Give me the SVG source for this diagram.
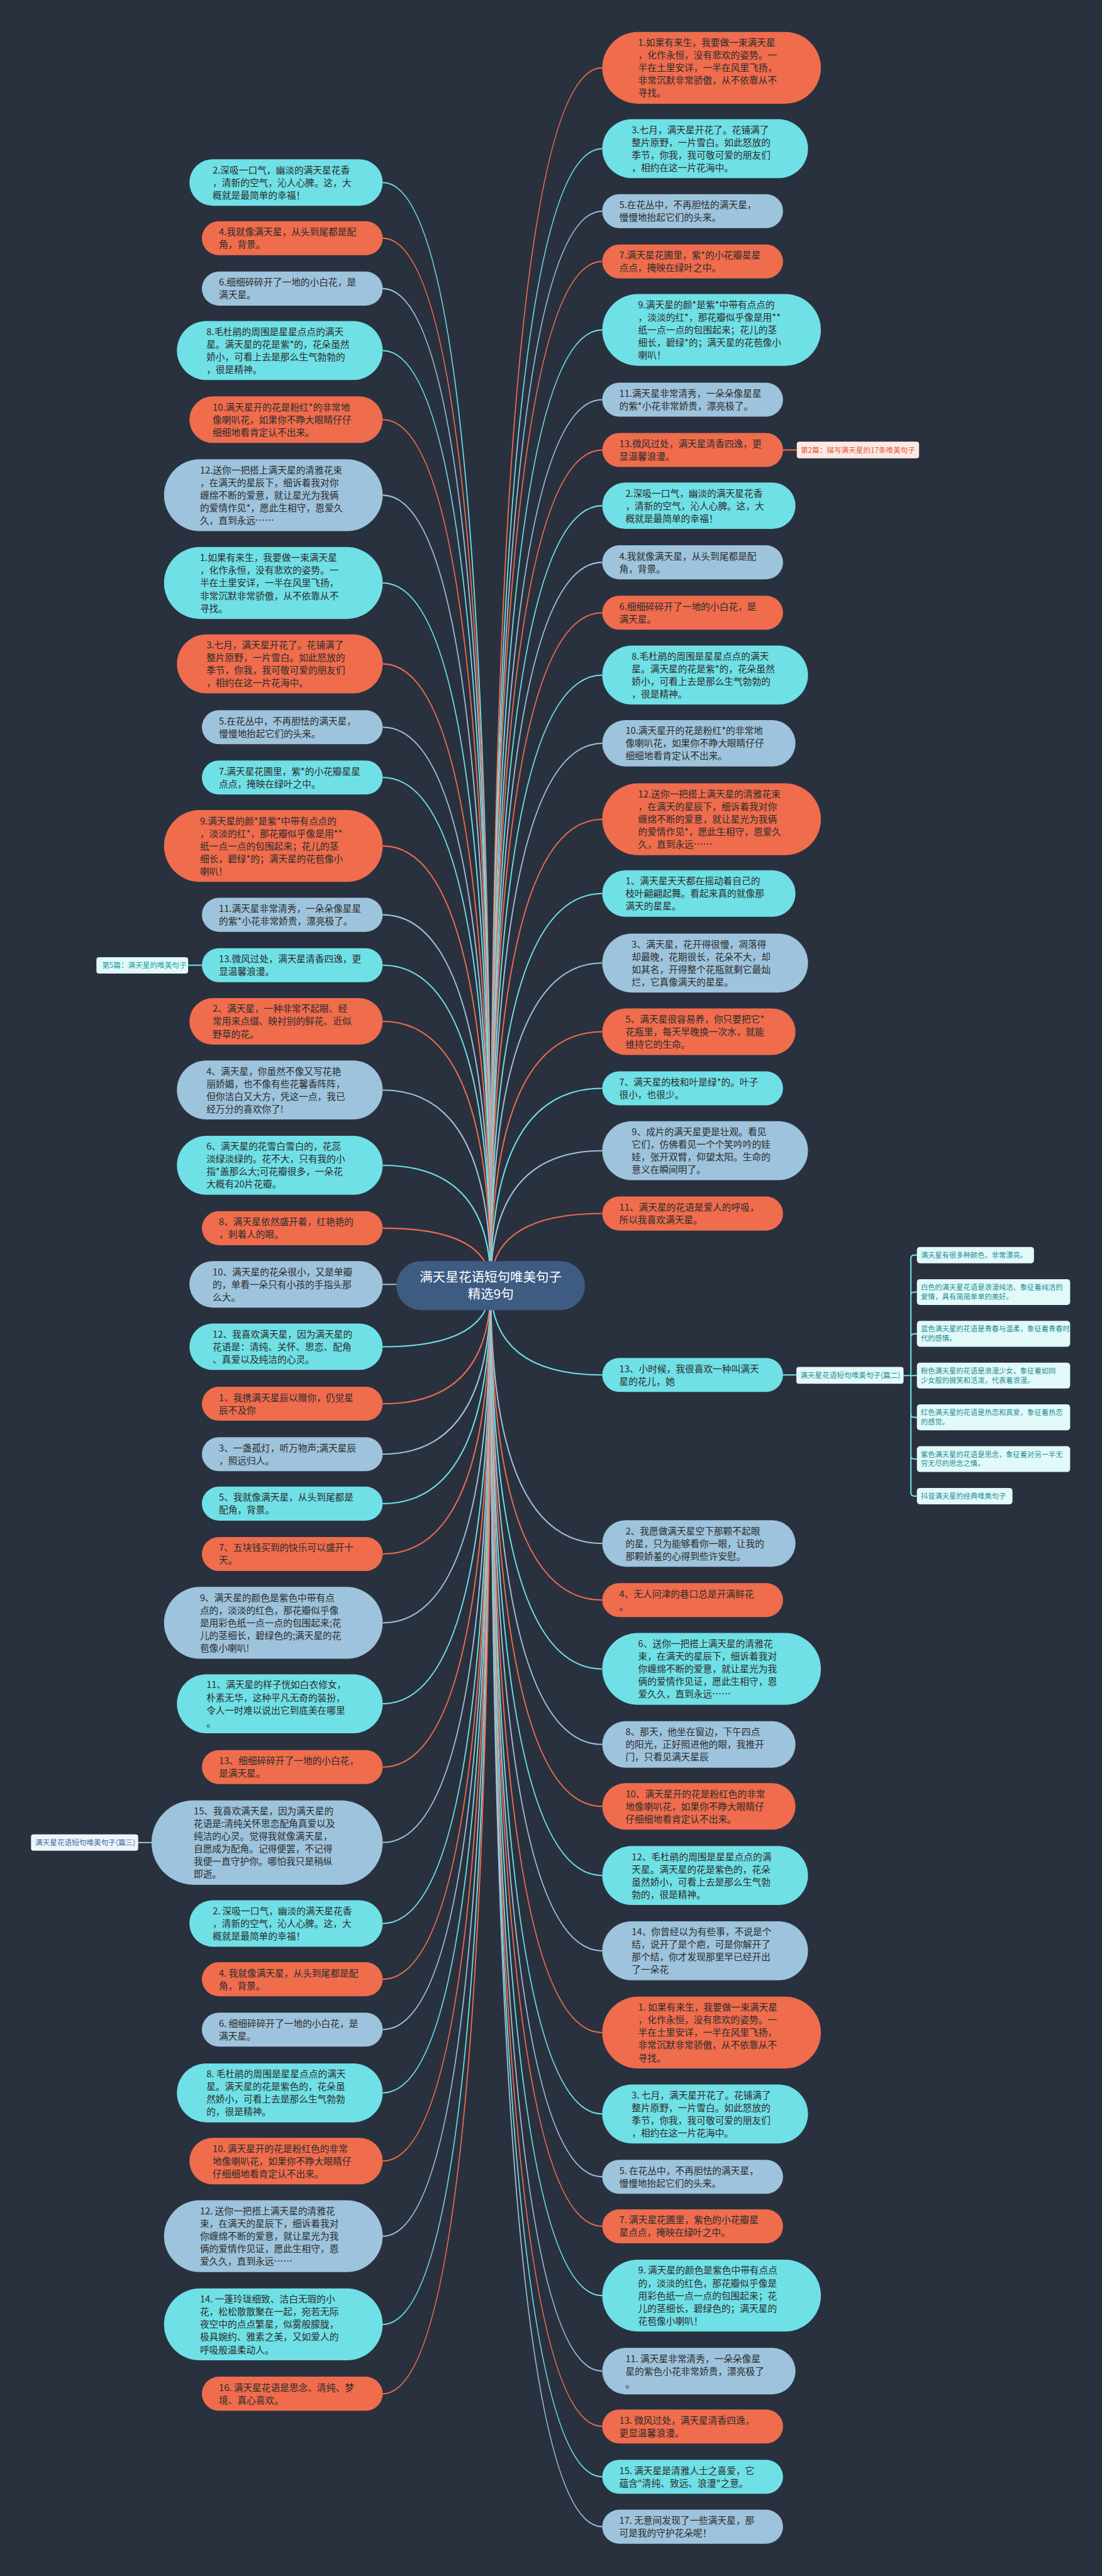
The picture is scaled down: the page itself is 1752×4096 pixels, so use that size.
<svg xmlns="http://www.w3.org/2000/svg" width="1752" height="4096" viewBox="0 0 1752 4096">
<style>
.c{fill:#6fe0e6}.o{fill:#ef6c4d}.b{fill:#9ec3dc}
.t{font-family:"Noto Sans CJK SC","Noto Sans",sans-serif;font-size:21.5px;fill:#2b2b2b}
.k path{fill:none;stroke-width:3}
.sc{stroke:#6fe0e6}.so{stroke:#ef6c4d}.sb{stroke:#9ec3dc}
.lt{font-family:"Noto Sans CJK SC","Noto Sans",sans-serif;font-size:17px}
.st{font-family:"Noto Sans CJK SC","Noto Sans",sans-serif;font-size:16.5px;fill:#1f8e95}
.sub rect{fill:#e2f9f9}
.ctr{font-family:"Noto Sans CJK SC","Noto Sans",sans-serif;font-size:30px;fill:#ffffff;text-anchor:middle}
</style>
<rect x="0" y="0" width="1752" height="4096" fill="#29313f"/>
<g transform="scale(0.684375)">
<g id="connectors" class="k">
<path class="sc" d="M1140 2987Q1140 424 889 424"/>
<path class="so" d="M1140 2987Q1140 553.5 889 553.5"/>
<path class="sb" d="M1140 2987Q1140 670.5 889 670.5"/>
<path class="sc" d="M1140 2987Q1140 814.5 889 814.5"/>
<path class="so" d="M1140 2987Q1140 975 889 975"/>
<path class="sb" d="M1140 2987Q1140 1150.5 889 1150.5"/>
<path class="sc" d="M1140 2987Q1140 1354.5 889 1354.5"/>
<path class="so" d="M1140 2987Q1140 1542.5 889 1542.5"/>
<path class="sb" d="M1140 2987Q1140 1689.5 889 1689.5"/>
<path class="sc" d="M1140 2987Q1140 1806.5 889 1806.5"/>
<path class="so" d="M1140 2987Q1140 1965.5 889 1965.5"/>
<path class="sb" d="M1140 2987Q1140 2125.5 889 2125.5"/>
<path class="sc" d="M1140 2987Q1140 2242.5 889 2242.5"/>
<path class="so" d="M1140 2987Q1140 2373 889 2373"/>
<path class="sb" d="M1140 2987Q1140 2532.5 889 2532.5"/>
<path class="sc" d="M1140 2987Q1140 2707.5 889 2707.5"/>
<path class="so" d="M1140 2987Q1140 2853.5 889 2853.5"/>
<path class="sb" d="M1140 2987Q1140 2984 889 2984"/>
<path class="sc" d="M1140 2987Q1140 3129 889 3129"/>
<path class="so" d="M1140 2987Q1140 3261.5 889 3261.5"/>
<path class="sb" d="M1140 2987Q1140 3378.5 889 3378.5"/>
<path class="sc" d="M1140 2987Q1140 3493.5 889 3493.5"/>
<path class="so" d="M1140 2987Q1140 3610.5 889 3610.5"/>
<path class="sb" d="M1140 2987Q1140 3770.5 889 3770.5"/>
<path class="sc" d="M1140 2987Q1140 3958.5 889 3958.5"/>
<path class="so" d="M1140 2987Q1140 4105.5 889 4105.5"/>
<path class="sb" d="M1140 2987Q1140 4281 889 4281"/>
<path class="sc" d="M1140 2987Q1140 4469 889 4469"/>
<path class="so" d="M1140 2987Q1140 4598.5 889 4598.5"/>
<path class="sb" d="M1140 2987Q1140 4715.5 889 4715.5"/>
<path class="sc" d="M1140 2987Q1140 4862.5 889 4862.5"/>
<path class="so" d="M1140 2987Q1140 5021 889 5021"/>
<path class="sb" d="M1140 2987Q1140 5195.5 889 5195.5"/>
<path class="sc" d="M1140 2987Q1140 5400.5 889 5400.5"/>
<path class="so" d="M1140 2987Q1140 5561.5 889 5561.5"/>
<path class="so" d="M1140 2987Q1140 157.5 1399 157.5"/>
<path class="sc" d="M1140 2987Q1140 345.5 1399 345.5"/>
<path class="sb" d="M1140 2987Q1140 490.5 1399 490.5"/>
<path class="so" d="M1140 2987Q1140 607.5 1399 607.5"/>
<path class="sc" d="M1140 2987Q1140 766.5 1399 766.5"/>
<path class="sb" d="M1140 2987Q1140 928.5 1399 928.5"/>
<path class="so" d="M1140 2987Q1140 1045.5 1399 1045.5"/>
<path class="sc" d="M1140 2987Q1140 1175 1399 1175"/>
<path class="sb" d="M1140 2987Q1140 1306.5 1399 1306.5"/>
<path class="so" d="M1140 2987Q1140 1423.5 1399 1423.5"/>
<path class="sc" d="M1140 2987Q1140 1568.5 1399 1568.5"/>
<path class="sb" d="M1140 2987Q1140 1727 1399 1727"/>
<path class="so" d="M1140 2987Q1140 1903.5 1399 1903.5"/>
<path class="sc" d="M1140 2987Q1140 2076 1399 2076"/>
<path class="sb" d="M1140 2987Q1140 2237.5 1399 2237.5"/>
<path class="so" d="M1140 2987Q1140 2397 1399 2397"/>
<path class="sc" d="M1140 2987Q1140 2528.5 1399 2528.5"/>
<path class="sb" d="M1140 2987Q1140 2673.5 1399 2673.5"/>
<path class="so" d="M1140 2987Q1140 2819.5 1399 2819.5"/>
<path class="sc" d="M1140 2987Q1140 3194.5 1399 3194.5"/>
<path class="sb" d="M1140 2987Q1140 3586 1399 3586"/>
<path class="so" d="M1140 2987Q1140 3717.5 1399 3717.5"/>
<path class="sc" d="M1140 2987Q1140 3877.5 1399 3877.5"/>
<path class="sb" d="M1140 2987Q1140 4053 1399 4053"/>
<path class="so" d="M1140 2987Q1140 4197 1399 4197"/>
<path class="sc" d="M1140 2987Q1140 4357.5 1399 4357.5"/>
<path class="sb" d="M1140 2987Q1140 4532.5 1399 4532.5"/>
<path class="so" d="M1140 2987Q1140 4722.5 1399 4722.5"/>
<path class="sc" d="M1140 2987Q1140 4911.5 1399 4911.5"/>
<path class="sb" d="M1140 2987Q1140 5057.5 1399 5057.5"/>
<path class="so" d="M1140 2987Q1140 5172.5 1399 5172.5"/>
<path class="sc" d="M1140 2987Q1140 5333.5 1399 5333.5"/>
<path class="sb" d="M1140 2987Q1140 5509 1399 5509"/>
<path class="so" d="M1140 2987Q1140 5637.5 1399 5637.5"/>
<path class="sc" d="M1140 2987Q1140 5754.5 1399 5754.5"/>
<path class="sb" d="M1140 2987Q1140 5870.5 1399 5870.5"/>
<path class="sc" d="M437 2242.5H469"/>
<path class="so" d="M1819 1045.5H1851"/>
<path class="sb" d="M321 4281H352"/>
<path class="sc" d="M1819 3194.5H1850"/>
<path class="sc" d="M2099 3196H2130M2116 2924V3468M2116 2924Q2116 2916 2124 2916H2130M2116 3010Q2116 3002 2124 3002H2130M2116 3107Q2116 3099 2124 3099H2130M2116 3285Q2116 3293 2124 3293H2130M2116 3382Q2116 3390 2124 3390H2130M2116 3468Q2116 3476 2124 3476H2130"/>
</g>
<g id="center"><rect x="921" y="2930" width="438" height="114" rx="57" fill="#3e5b82"/><text class="ctr" x="1140" y="2978"><tspan x="1140">满天星花语短句唯美句子</tspan><tspan x="1140" dy="40">精选9句</tspan></text></g>
<g id="L1"><rect class="c" x="440" y="370" width="449" height="108" rx="54"/><text class="t" x="494" y="402.7"><tspan x="494">2.深吸一口气，幽淡的满天星花香</tspan><tspan x="494" dy="29.3">，清新的空气，沁人心脾。这，大</tspan><tspan x="494" dy="29.3">概就是最简单的幸福！</tspan></text></g>
<g id="L2"><rect class="o" x="469" y="514" width="420" height="79" rx="39.5"/><text class="t" x="508.5" y="546.85"><tspan x="508.5">4.我就像满天星，从头到尾都是配</tspan><tspan x="508.5" dy="29.3">角，背景。</tspan></text></g>
<g id="L3"><rect class="b" x="469" y="631" width="420" height="79" rx="39.5"/><text class="t" x="508.5" y="663.85"><tspan x="508.5">6.细细碎碎开了一地的小白花，是</tspan><tspan x="508.5" dy="29.3">满天星。</tspan></text></g>
<g id="L4"><rect class="c" x="411" y="746" width="478" height="137" rx="68.5"/><text class="t" x="479.5" y="778.55"><tspan x="479.5">8.毛杜鹃的周围是星星点点的满天</tspan><tspan x="479.5" dy="29.3">星。满天星的花是紫*的，花朵虽然</tspan><tspan x="479.5" dy="29.3">娇小，可看上去是那么生气勃勃的</tspan><tspan x="479.5" dy="29.3">，很是精神。</tspan></text></g>
<g id="L5"><rect class="o" x="440" y="921" width="449" height="108" rx="54"/><text class="t" x="494" y="953.7"><tspan x="494">10.满天星开的花是粉红*的非常地</tspan><tspan x="494" dy="29.3">像喇叭花，如果你不睁大眼睛仔仔</tspan><tspan x="494" dy="29.3">细细地看肯定认不出来。</tspan></text></g>
<g id="L6"><rect class="b" x="381" y="1067" width="508" height="167" rx="83.5"/><text class="t" x="464.5" y="1099.9"><tspan x="464.5">12.送你一把搭上满天星的清雅花束</tspan><tspan x="464.5" dy="29.3">，在满天的星辰下，细诉着我对你</tspan><tspan x="464.5" dy="29.3">缠绵不断的爱意，就让星光为我俩</tspan><tspan x="464.5" dy="29.3">的爱情作见*，愿此生相守，恩爱久</tspan><tspan x="464.5" dy="29.3">久，直到永远……</tspan></text></g>
<g id="L7"><rect class="c" x="381" y="1271" width="508" height="167" rx="83.5"/><text class="t" x="464.5" y="1303.9"><tspan x="464.5">1.如果有来生，我要做一束满天星</tspan><tspan x="464.5" dy="29.3">，化作永恒，没有悲欢的姿势。一</tspan><tspan x="464.5" dy="29.3">半在土里安详，一半在风里飞扬，</tspan><tspan x="464.5" dy="29.3">非常沉默非常骄傲，从不依靠从不</tspan><tspan x="464.5" dy="29.3">寻找。</tspan></text></g>
<g id="L8"><rect class="o" x="411" y="1474" width="478" height="137" rx="68.5"/><text class="t" x="479.5" y="1506.55"><tspan x="479.5">3.七月，满天星开花了。花铺满了</tspan><tspan x="479.5" dy="29.3">整片原野，一片雪白。如此怒放的</tspan><tspan x="479.5" dy="29.3">季节，你我，我可敬可爱的朋友们</tspan><tspan x="479.5" dy="29.3">，相约在这一片花海中。</tspan></text></g>
<g id="L9"><rect class="b" x="469" y="1650" width="420" height="79" rx="39.5"/><text class="t" x="508.5" y="1682.85"><tspan x="508.5">5.在花丛中，不再胆怯的满天星，</tspan><tspan x="508.5" dy="29.3">慢慢地抬起它们的头来。</tspan></text></g>
<g id="L10"><rect class="c" x="469" y="1767" width="420" height="79" rx="39.5"/><text class="t" x="508.5" y="1799.85"><tspan x="508.5">7.满天星花圃里，紫*的小花瓣星星</tspan><tspan x="508.5" dy="29.3">点点，掩映在绿叶之中。</tspan></text></g>
<g id="L11"><rect class="o" x="381" y="1882" width="508" height="167" rx="83.5"/><text class="t" x="464.5" y="1914.9"><tspan x="464.5">9.满天星的颜*是紫*中带有点点的</tspan><tspan x="464.5" dy="29.3">，淡淡的红*，那花瓣似乎像是用**</tspan><tspan x="464.5" dy="29.3">纸一点一点的包围起来；花儿的茎</tspan><tspan x="464.5" dy="29.3">细长，碧绿*的；满天星的花苞像小</tspan><tspan x="464.5" dy="29.3">喇叭！</tspan></text></g>
<g id="L12"><rect class="b" x="469" y="2086" width="420" height="79" rx="39.5"/><text class="t" x="508.5" y="2118.85"><tspan x="508.5">11.满天星非常清秀，一朵朵像星星</tspan><tspan x="508.5" dy="29.3">的紫*小花非常娇贵，漂亮极了。</tspan></text></g>
<g id="L13"><rect class="c" x="469" y="2203" width="420" height="79" rx="39.5"/><text class="t" x="508.5" y="2235.85"><tspan x="508.5">13.微风过处，满天星清香四逸，更</tspan><tspan x="508.5" dy="29.3">显温馨浪漫。</tspan></text></g>
<g id="L14"><rect class="o" x="440" y="2319" width="449" height="108" rx="54"/><text class="t" x="494" y="2351.7"><tspan x="494">2、满天星，一种非常不起眼、经</tspan><tspan x="494" dy="29.3">常用来点缀、映衬别的鲜花、近似</tspan><tspan x="494" dy="29.3">野草的花。</tspan></text></g>
<g id="L15"><rect class="b" x="411" y="2464" width="478" height="137" rx="68.5"/><text class="t" x="479.5" y="2496.55"><tspan x="479.5">4、满天星，你虽然不像又写花艳</tspan><tspan x="479.5" dy="29.3">丽娇媚，也不像有些花馨香阵阵，</tspan><tspan x="479.5" dy="29.3">但你洁白又大方，凭这一点，我已</tspan><tspan x="479.5" dy="29.3">经万分的喜欢你了!</tspan></text></g>
<g id="L16"><rect class="c" x="411" y="2639" width="478" height="137" rx="68.5"/><text class="t" x="479.5" y="2671.55"><tspan x="479.5">6、满天星的花雪白雪白的，花蕊</tspan><tspan x="479.5" dy="29.3">淡绿淡绿的。花不大，只有我的小</tspan><tspan x="479.5" dy="29.3">指*盖那么大;可花瓣很多，一朵花</tspan><tspan x="479.5" dy="29.3">大概有20片花瓣。</tspan></text></g>
<g id="L17"><rect class="o" x="469" y="2814" width="420" height="79" rx="39.5"/><text class="t" x="508.5" y="2846.85"><tspan x="508.5">8、满天星依然盛开着，红艳艳的</tspan><tspan x="508.5" dy="29.3">，刺着人的眼。</tspan></text></g>
<g id="L18"><rect class="b" x="440" y="2930" width="449" height="108" rx="54"/><text class="t" x="494" y="2962.7"><tspan x="494">10、满天星的花朵很小，又是单瓣</tspan><tspan x="494" dy="29.3">的，单看一朵只有小孩的手指头那</tspan><tspan x="494" dy="29.3">么大。</tspan></text></g>
<g id="L19"><rect class="c" x="440" y="3075" width="449" height="108" rx="54"/><text class="t" x="494" y="3107.7"><tspan x="494">12、我喜欢满天星，因为满天星的</tspan><tspan x="494" dy="29.3">花语是：清纯、关怀、思恋、配角</tspan><tspan x="494" dy="29.3">、真爱以及纯洁的心灵。</tspan></text></g>
<g id="L20"><rect class="o" x="469" y="3222" width="420" height="79" rx="39.5"/><text class="t" x="508.5" y="3254.85"><tspan x="508.5">1、我携满天星辰以赠你，仍觉星</tspan><tspan x="508.5" dy="29.3">辰不及你</tspan></text></g>
<g id="L21"><rect class="b" x="469" y="3339" width="420" height="79" rx="39.5"/><text class="t" x="508.5" y="3371.85"><tspan x="508.5">3、一盏孤灯，听万物声;满天星辰</tspan><tspan x="508.5" dy="29.3">，照远归人。</tspan></text></g>
<g id="L22"><rect class="c" x="469" y="3454" width="420" height="79" rx="39.5"/><text class="t" x="508.5" y="3486.85"><tspan x="508.5">5、我就像满天星，从头到尾都是</tspan><tspan x="508.5" dy="29.3">配角，背景。</tspan></text></g>
<g id="L23"><rect class="o" x="469" y="3571" width="420" height="79" rx="39.5"/><text class="t" x="508.5" y="3603.85"><tspan x="508.5">7、五块钱买到的快乐可以盛开十</tspan><tspan x="508.5" dy="29.3">天。</tspan></text></g>
<g id="L24"><rect class="b" x="381" y="3687" width="508" height="167" rx="83.5"/><text class="t" x="464.5" y="3719.9"><tspan x="464.5">9、满天星的颜色是紫色中带有点</tspan><tspan x="464.5" dy="29.3">点的，淡淡的红色，那花瓣似乎像</tspan><tspan x="464.5" dy="29.3">是用彩色纸一点一点的包围起来;花</tspan><tspan x="464.5" dy="29.3">儿的茎细长，碧绿色的;满天星的花</tspan><tspan x="464.5" dy="29.3">苞像小喇叭!</tspan></text></g>
<g id="L25"><rect class="c" x="411" y="3890" width="478" height="137" rx="68.5"/><text class="t" x="479.5" y="3922.55"><tspan x="479.5">11、满天星的样子恍如白衣修女，</tspan><tspan x="479.5" dy="29.3">朴素无华，这种平凡无奇的装扮，</tspan><tspan x="479.5" dy="29.3">令人一时难以说出它到底美在哪里</tspan><tspan x="479.5" dy="29.3">。</tspan></text></g>
<g id="L26"><rect class="o" x="469" y="4066" width="420" height="79" rx="39.5"/><text class="t" x="508.5" y="4098.85"><tspan x="508.5">13、细细碎碎开了一地的小白花，</tspan><tspan x="508.5" dy="29.3">是满天星。</tspan></text></g>
<g id="L27"><rect class="b" x="352" y="4183" width="537" height="196" rx="98"/><text class="t" x="450" y="4215.75"><tspan x="450">15、我喜欢满天星，因为满天星的</tspan><tspan x="450" dy="29.3">花语是:清纯关怀思恋配角真爱以及</tspan><tspan x="450" dy="29.3">纯洁的心灵。觉得我就像满天星，</tspan><tspan x="450" dy="29.3">自愿成为配角。记得便罢，不记得</tspan><tspan x="450" dy="29.3">我便一直守护你。哪怕我只是稍纵</tspan><tspan x="450" dy="29.3">即逝。</tspan></text></g>
<g id="L28"><rect class="c" x="440" y="4415" width="449" height="108" rx="54"/><text class="t" x="494" y="4447.7"><tspan x="494">2. 深吸一口气，幽淡的满天星花香</tspan><tspan x="494" dy="29.3">，清新的空气，沁人心脾。这，大</tspan><tspan x="494" dy="29.3">概就是最简单的幸福！</tspan></text></g>
<g id="L29"><rect class="o" x="469" y="4559" width="420" height="79" rx="39.5"/><text class="t" x="508.5" y="4591.85"><tspan x="508.5">4. 我就像满天星，从头到尾都是配</tspan><tspan x="508.5" dy="29.3">角，背景。</tspan></text></g>
<g id="L30"><rect class="b" x="469" y="4676" width="420" height="79" rx="39.5"/><text class="t" x="508.5" y="4708.85"><tspan x="508.5">6. 细细碎碎开了一地的小白花，是</tspan><tspan x="508.5" dy="29.3">满天星。</tspan></text></g>
<g id="L31"><rect class="c" x="411" y="4794" width="478" height="137" rx="68.5"/><text class="t" x="479.5" y="4826.55"><tspan x="479.5">8. 毛杜鹃的周围是星星点点的满天</tspan><tspan x="479.5" dy="29.3">星。满天星的花是紫色的，花朵虽</tspan><tspan x="479.5" dy="29.3">然娇小，可看上去是那么生气勃勃</tspan><tspan x="479.5" dy="29.3">的，很是精神。</tspan></text></g>
<g id="L32"><rect class="o" x="440" y="4967" width="449" height="108" rx="54"/><text class="t" x="494" y="4999.7"><tspan x="494">10. 满天星开的花是粉红色的非常</tspan><tspan x="494" dy="29.3">地像喇叭花，如果你不睁大眼睛仔</tspan><tspan x="494" dy="29.3">仔细细地看肯定认不出来。</tspan></text></g>
<g id="L33"><rect class="b" x="381" y="5112" width="508" height="167" rx="83.5"/><text class="t" x="464.5" y="5144.9"><tspan x="464.5">12. 送你一把搭上满天星的清雅花</tspan><tspan x="464.5" dy="29.3">束，在满天的星辰下，细诉着我对</tspan><tspan x="464.5" dy="29.3">你缠绵不断的爱意，就让星光为我</tspan><tspan x="464.5" dy="29.3">俩的爱情作见证，愿此生相守，恩</tspan><tspan x="464.5" dy="29.3">爱久久，直到永远……</tspan></text></g>
<g id="L34"><rect class="c" x="381" y="5317" width="508" height="167" rx="83.5"/><text class="t" x="464.5" y="5349.9"><tspan x="464.5">14. 一蓬玲珑细致、洁白无瑕的小</tspan><tspan x="464.5" dy="29.3">花，松松散散聚在一起，宛若无际</tspan><tspan x="464.5" dy="29.3">夜空中的点点繁星，似雾般朦胧，</tspan><tspan x="464.5" dy="29.3">极具婉约、雅素之美，又如爱人的</tspan><tspan x="464.5" dy="29.3">呼吸般温柔动人。</tspan></text></g>
<g id="L35"><rect class="o" x="469" y="5522" width="420" height="79" rx="39.5"/><text class="t" x="508.5" y="5554.85"><tspan x="508.5">16. 满天星花语是思念、清纯、梦</tspan><tspan x="508.5" dy="29.3">境、真心喜欢。</tspan></text></g>
<g id="R1"><rect class="o" x="1399" y="74" width="508" height="167" rx="83.5"/><text class="t" x="1482.5" y="106.9"><tspan x="1482.5">1.如果有来生，我要做一束满天星</tspan><tspan x="1482.5" dy="29.3">，化作永恒，没有悲欢的姿势。一</tspan><tspan x="1482.5" dy="29.3">半在土里安详，一半在风里飞扬，</tspan><tspan x="1482.5" dy="29.3">非常沉默非常骄傲，从不依靠从不</tspan><tspan x="1482.5" dy="29.3">寻找。</tspan></text></g>
<g id="R2"><rect class="c" x="1399" y="277" width="478" height="137" rx="68.5"/><text class="t" x="1467.5" y="309.55"><tspan x="1467.5">3.七月，满天星开花了。花铺满了</tspan><tspan x="1467.5" dy="29.3">整片原野，一片雪白。如此怒放的</tspan><tspan x="1467.5" dy="29.3">季节，你我，我可敬可爱的朋友们</tspan><tspan x="1467.5" dy="29.3">，相约在这一片花海中。</tspan></text></g>
<g id="R3"><rect class="b" x="1399" y="451" width="420" height="79" rx="39.5"/><text class="t" x="1438.5" y="483.85"><tspan x="1438.5">5.在花丛中，不再胆怯的满天星，</tspan><tspan x="1438.5" dy="29.3">慢慢地抬起它们的头来。</tspan></text></g>
<g id="R4"><rect class="o" x="1399" y="568" width="420" height="79" rx="39.5"/><text class="t" x="1438.5" y="600.85"><tspan x="1438.5">7.满天星花圃里，紫*的小花瓣星星</tspan><tspan x="1438.5" dy="29.3">点点，掩映在绿叶之中。</tspan></text></g>
<g id="R5"><rect class="c" x="1399" y="683" width="508" height="167" rx="83.5"/><text class="t" x="1482.5" y="715.9"><tspan x="1482.5">9.满天星的颜*是紫*中带有点点的</tspan><tspan x="1482.5" dy="29.3">，淡淡的红*，那花瓣似乎像是用**</tspan><tspan x="1482.5" dy="29.3">纸一点一点的包围起来；花儿的茎</tspan><tspan x="1482.5" dy="29.3">细长，碧绿*的；满天星的花苞像小</tspan><tspan x="1482.5" dy="29.3">喇叭！</tspan></text></g>
<g id="R6"><rect class="b" x="1399" y="889" width="420" height="79" rx="39.5"/><text class="t" x="1438.5" y="921.85"><tspan x="1438.5">11.满天星非常清秀，一朵朵像星星</tspan><tspan x="1438.5" dy="29.3">的紫*小花非常娇贵，漂亮极了。</tspan></text></g>
<g id="R7"><rect class="o" x="1399" y="1006" width="420" height="79" rx="39.5"/><text class="t" x="1438.5" y="1038.85"><tspan x="1438.5">13.微风过处，满天星清香四逸，更</tspan><tspan x="1438.5" dy="29.3">显温馨浪漫。</tspan></text></g>
<g id="R8"><rect class="c" x="1399" y="1121" width="449" height="108" rx="54"/><text class="t" x="1453" y="1153.7"><tspan x="1453">2.深吸一口气，幽淡的满天星花香</tspan><tspan x="1453" dy="29.3">，清新的空气，沁人心脾。这，大</tspan><tspan x="1453" dy="29.3">概就是最简单的幸福！</tspan></text></g>
<g id="R9"><rect class="b" x="1399" y="1267" width="420" height="79" rx="39.5"/><text class="t" x="1438.5" y="1299.85"><tspan x="1438.5">4.我就像满天星，从头到尾都是配</tspan><tspan x="1438.5" dy="29.3">角，背景。</tspan></text></g>
<g id="R10"><rect class="o" x="1399" y="1384" width="420" height="79" rx="39.5"/><text class="t" x="1438.5" y="1416.85"><tspan x="1438.5">6.细细碎碎开了一地的小白花，是</tspan><tspan x="1438.5" dy="29.3">满天星。</tspan></text></g>
<g id="R11"><rect class="c" x="1399" y="1500" width="478" height="137" rx="68.5"/><text class="t" x="1467.5" y="1532.55"><tspan x="1467.5">8.毛杜鹃的周围是星星点点的满天</tspan><tspan x="1467.5" dy="29.3">星。满天星的花是紫*的，花朵虽然</tspan><tspan x="1467.5" dy="29.3">娇小，可看上去是那么生气勃勃的</tspan><tspan x="1467.5" dy="29.3">，很是精神。</tspan></text></g>
<g id="R12"><rect class="b" x="1399" y="1673" width="449" height="108" rx="54"/><text class="t" x="1453" y="1705.7"><tspan x="1453">10.满天星开的花是粉红*的非常地</tspan><tspan x="1453" dy="29.3">像喇叭花，如果你不睁大眼睛仔仔</tspan><tspan x="1453" dy="29.3">细细地看肯定认不出来。</tspan></text></g>
<g id="R13"><rect class="o" x="1399" y="1820" width="508" height="167" rx="83.5"/><text class="t" x="1482.5" y="1852.9"><tspan x="1482.5">12.送你一把搭上满天星的清雅花束</tspan><tspan x="1482.5" dy="29.3">，在满天的星辰下，细诉着我对你</tspan><tspan x="1482.5" dy="29.3">缠绵不断的爱意，就让星光为我俩</tspan><tspan x="1482.5" dy="29.3">的爱情作见*，愿此生相守，恩爱久</tspan><tspan x="1482.5" dy="29.3">久，直到永远……</tspan></text></g>
<g id="R14"><rect class="c" x="1399" y="2022" width="449" height="108" rx="54"/><text class="t" x="1453" y="2054.7"><tspan x="1453">1、满天星天天都在摇动着自己的</tspan><tspan x="1453" dy="29.3">枝叶翩翩起舞。看起来真的就像那</tspan><tspan x="1453" dy="29.3">满天的星星。</tspan></text></g>
<g id="R15"><rect class="b" x="1399" y="2169" width="478" height="137" rx="68.5"/><text class="t" x="1467.5" y="2201.55"><tspan x="1467.5">3、满天星，花开得很慢，凋落得</tspan><tspan x="1467.5" dy="29.3">却最晚，花期很长，花朵不大，却</tspan><tspan x="1467.5" dy="29.3">如其名，开得整个花瓶就剩它最灿</tspan><tspan x="1467.5" dy="29.3">烂，它真像满天的星星。</tspan></text></g>
<g id="R16"><rect class="o" x="1399" y="2343" width="449" height="108" rx="54"/><text class="t" x="1453" y="2375.7"><tspan x="1453">5、满天星很容易养，你只要把它*</tspan><tspan x="1453" dy="29.3">花瓶里，每天早晚换一次水，就能</tspan><tspan x="1453" dy="29.3">维持它的生命。</tspan></text></g>
<g id="R17"><rect class="c" x="1399" y="2489" width="420" height="79" rx="39.5"/><text class="t" x="1438.5" y="2521.85"><tspan x="1438.5">7、满天星的枝和叶是绿*的。叶子</tspan><tspan x="1438.5" dy="29.3">很小，也很少。</tspan></text></g>
<g id="R18"><rect class="b" x="1399" y="2605" width="478" height="137" rx="68.5"/><text class="t" x="1467.5" y="2637.55"><tspan x="1467.5">9、成片的满天星更是壮观。看见</tspan><tspan x="1467.5" dy="29.3">它们，仿佛看见一个个笑吟吟的娃</tspan><tspan x="1467.5" dy="29.3">娃，张开双臂，仰望太阳。生命的</tspan><tspan x="1467.5" dy="29.3">意义在瞬间明了。</tspan></text></g>
<g id="R19"><rect class="o" x="1399" y="2780" width="420" height="79" rx="39.5"/><text class="t" x="1438.5" y="2812.85"><tspan x="1438.5">11、满天星的花语是爱人的呼吸，</tspan><tspan x="1438.5" dy="29.3">所以我喜欢满天星。</tspan></text></g>
<g id="R20"><rect class="c" x="1399" y="3155" width="420" height="79" rx="39.5"/><text class="t" x="1438.5" y="3187.85"><tspan x="1438.5">13、小时候，我很喜欢一种叫满天</tspan><tspan x="1438.5" dy="29.3">星的花儿，她</tspan></text></g>
<g id="R21"><rect class="b" x="1399" y="3532" width="449" height="108" rx="54"/><text class="t" x="1453" y="3564.7"><tspan x="1453">2、我愿做满天星空下那颗不起眼</tspan><tspan x="1453" dy="29.3">的星，只为能够看你一眼，让我的</tspan><tspan x="1453" dy="29.3">那颗娇羞的心得到些许安慰。</tspan></text></g>
<g id="R22"><rect class="o" x="1399" y="3678" width="420" height="79" rx="39.5"/><text class="t" x="1438.5" y="3710.85"><tspan x="1438.5">4、无人问津的巷口总是开满鲜花</tspan><tspan x="1438.5" dy="29.3">。</tspan></text></g>
<g id="R23"><rect class="c" x="1399" y="3794" width="508" height="167" rx="83.5"/><text class="t" x="1482.5" y="3826.9"><tspan x="1482.5">6、送你一把搭上满天星的清雅花</tspan><tspan x="1482.5" dy="29.3">束，在满天的星辰下，细诉着我对</tspan><tspan x="1482.5" dy="29.3">你缠绵不断的爱意，就让星光为我</tspan><tspan x="1482.5" dy="29.3">俩的爱情作见证，愿此生相守，恩</tspan><tspan x="1482.5" dy="29.3">爱久久，直到永远……</tspan></text></g>
<g id="R24"><rect class="b" x="1399" y="3999" width="449" height="108" rx="54"/><text class="t" x="1453" y="4031.7"><tspan x="1453">8、那天，他坐在窗边，下午四点</tspan><tspan x="1453" dy="29.3">的阳光，正好照进他的眼，我推开</tspan><tspan x="1453" dy="29.3">门，只看见满天星辰</tspan></text></g>
<g id="R25"><rect class="o" x="1399" y="4143" width="449" height="108" rx="54"/><text class="t" x="1453" y="4175.7"><tspan x="1453">10、满天星开的花是粉红色的非常</tspan><tspan x="1453" dy="29.3">地像喇叭花，如果你不睁大眼睛仔</tspan><tspan x="1453" dy="29.3">仔细细地看肯定认不出来。</tspan></text></g>
<g id="R26"><rect class="c" x="1399" y="4289" width="478" height="137" rx="68.5"/><text class="t" x="1467.5" y="4321.55"><tspan x="1467.5">12、毛杜鹃的周围是星星点点的满</tspan><tspan x="1467.5" dy="29.3">天星。满天星的花是紫色的，花朵</tspan><tspan x="1467.5" dy="29.3">虽然娇小，可看上去是那么生气勃</tspan><tspan x="1467.5" dy="29.3">勃的，很是精神。</tspan></text></g>
<g id="R27"><rect class="b" x="1399" y="4464" width="478" height="137" rx="68.5"/><text class="t" x="1467.5" y="4496.55"><tspan x="1467.5">14、你曾经以为有些事，不说是个</tspan><tspan x="1467.5" dy="29.3">结，说开了是个疤，可是你解开了</tspan><tspan x="1467.5" dy="29.3">那个结，你才发现那里早已经开出</tspan><tspan x="1467.5" dy="29.3">了一朵花</tspan></text></g>
<g id="R28"><rect class="o" x="1399" y="4639" width="508" height="167" rx="83.5"/><text class="t" x="1482.5" y="4671.9"><tspan x="1482.5">1. 如果有来生，我要做一束满天星</tspan><tspan x="1482.5" dy="29.3">，化作永恒，没有悲欢的姿势。一</tspan><tspan x="1482.5" dy="29.3">半在土里安详，一半在风里飞扬，</tspan><tspan x="1482.5" dy="29.3">非常沉默非常骄傲，从不依靠从不</tspan><tspan x="1482.5" dy="29.3">寻找。</tspan></text></g>
<g id="R29"><rect class="c" x="1399" y="4843" width="478" height="137" rx="68.5"/><text class="t" x="1467.5" y="4875.55"><tspan x="1467.5">3. 七月，满天星开花了。花铺满了</tspan><tspan x="1467.5" dy="29.3">整片原野，一片雪白。如此怒放的</tspan><tspan x="1467.5" dy="29.3">季节，你我，我可敬可爱的朋友们</tspan><tspan x="1467.5" dy="29.3">，相约在这一片花海中。</tspan></text></g>
<g id="R30"><rect class="b" x="1399" y="5018" width="420" height="79" rx="39.5"/><text class="t" x="1438.5" y="5050.85"><tspan x="1438.5">5. 在花丛中，不再胆怯的满天星，</tspan><tspan x="1438.5" dy="29.3">慢慢地抬起它们的头来。</tspan></text></g>
<g id="R31"><rect class="o" x="1399" y="5133" width="420" height="79" rx="39.5"/><text class="t" x="1438.5" y="5165.85"><tspan x="1438.5">7. 满天星花圃里，紫色的小花瓣星</tspan><tspan x="1438.5" dy="29.3">星点点，掩映在绿叶之中。</tspan></text></g>
<g id="R32"><rect class="c" x="1399" y="5250" width="508" height="167" rx="83.5"/><text class="t" x="1482.5" y="5282.9"><tspan x="1482.5">9. 满天星的颜色是紫色中带有点点</tspan><tspan x="1482.5" dy="29.3">的，淡淡的红色，那花瓣似乎像是</tspan><tspan x="1482.5" dy="29.3">用彩色纸一点一点的包围起来；花</tspan><tspan x="1482.5" dy="29.3">儿的茎细长，碧绿色的；满天星的</tspan><tspan x="1482.5" dy="29.3">花苞像小喇叭！</tspan></text></g>
<g id="R33"><rect class="b" x="1399" y="5455" width="449" height="108" rx="54"/><text class="t" x="1453" y="5487.7"><tspan x="1453">11. 满天星非常清秀，一朵朵像星</tspan><tspan x="1453" dy="29.3">星的紫色小花非常娇贵，漂亮极了</tspan><tspan x="1453" dy="29.3">。</tspan></text></g>
<g id="R34"><rect class="o" x="1399" y="5598" width="420" height="79" rx="39.5"/><text class="t" x="1438.5" y="5630.85"><tspan x="1438.5">13. 微风过处，满天星清香四逸，</tspan><tspan x="1438.5" dy="29.3">更显温馨浪漫。</tspan></text></g>
<g id="R35"><rect class="c" x="1399" y="5715" width="420" height="79" rx="39.5"/><text class="t" x="1438.5" y="5747.85"><tspan x="1438.5">15. 满天星是清雅人士之喜爱，它</tspan><tspan x="1438.5" dy="29.3">蕴含"清纯、致远、浪漫"之意。</tspan></text></g>
<g id="R36"><rect class="b" x="1399" y="5831" width="420" height="79" rx="39.5"/><text class="t" x="1438.5" y="5863.85"><tspan x="1438.5">17. 无意间发现了一些满天星，那</tspan><tspan x="1438.5" dy="29.3">可是我的守护花朵呢！</tspan></text></g>
<g id="label5"><rect x="224" y="2224" width="213" height="38" rx="6" fill="#e2f8f8"/><text class="lt" x="237" y="2249" fill="#17a0a6">第5篇：满天星的唯美句子</text></g>
<g id="label2"><rect x="1851" y="1026" width="284" height="39" rx="6" fill="#fde9e4"/><text class="lt" x="1860" y="1051.5" fill="#e45a3c">第2篇：描写满天星的17条唯美句子</text></g>
<g id="label3"><rect x="72" y="4262" width="249" height="38" rx="6" fill="#eef5fa"/><text class="lt" x="82" y="4287" fill="#3b6d9a">满天星花语短句唯美句子(篇三)</text></g>
<g id="label2b"><rect x="1850" y="3176" width="249" height="39" rx="6" fill="#e2f9f9"/><text class="lt" x="1859" y="3201.5" fill="#1f8e95">满天星花语短句唯美句子(篇二)</text></g>
<g class="sub">
<g id="S1"><rect x="2130" y="2897" width="272" height="38" rx="7"/><text class="st" x="2139" y="2922">满天星有很多种颜色，非常漂亮。</text></g>
<g id="S2"><rect x="2130" y="2972" width="356" height="60" rx="7"/><text class="st" x="2139" y="2997">白色的满天星花语是浪漫纯洁、象征着纯洁的<tspan x="2139" dy="21.5">爱情，具有简简单单的美好。</tspan></text></g>
<g id="S3"><rect x="2130" y="3069" width="356" height="60" rx="7"/><text class="st" x="2139" y="3094">蓝色满天星的花语是青春与温柔，象征着青春时<tspan x="2139" dy="21.5">代的感情。</tspan></text></g>
<g id="S4"><rect x="2130" y="3166" width="356" height="60" rx="7"/><text class="st" x="2139" y="3191">粉色满天星的花语是浪漫少女，象征着如同<tspan x="2139" dy="21.5">少女般的微笑和活泼，代表着浪漫。</tspan></text></g>
<g id="S5"><rect x="2130" y="3263" width="356" height="60" rx="7"/><text class="st" x="2139" y="3288">红色满天星的花语是热恋和真爱，象征着热恋<tspan x="2139" dy="21.5">的感觉。</tspan></text></g>
<g id="S6"><rect x="2130" y="3360" width="356" height="60" rx="7"/><text class="st" x="2139" y="3385">紫色满天星的花语是思念，象征着对另一半无<tspan x="2139" dy="21.5">穷无尽的思念之情。</tspan></text></g>
<g id="S7"><rect x="2130" y="3457" width="222" height="38" rx="7"/><text class="st" x="2139" y="3482">抖音满天星的经典唯美句子</text></g>
</g>
</g>
</svg>
